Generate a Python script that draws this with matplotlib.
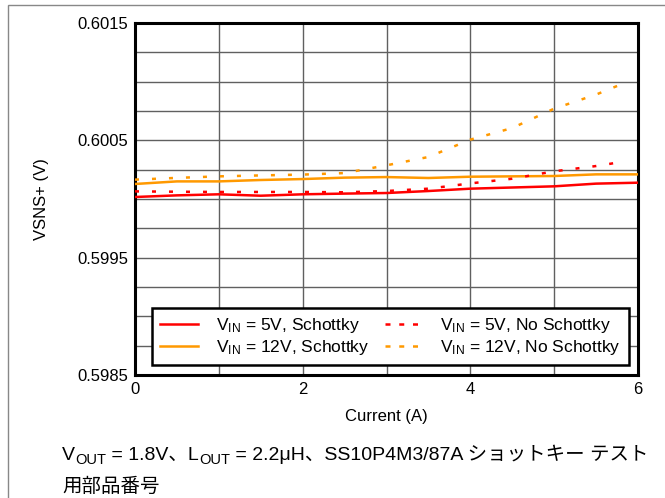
import matplotlib
matplotlib.use("Agg")
import matplotlib.pyplot as plt
from matplotlib.patches import Rectangle

plt.rcParams['font.family'] = ['Liberation Sans', 'Noto Sans CJK JP']
plt.rcParams['mathtext.fontset'] = 'custom'
plt.rcParams['mathtext.rm'] = 'Liberation Sans'
plt.rcParams['mathtext.it'] = 'Liberation Sans'

# Data
current_solid = [0, 0.5, 1, 1.5, 2, 2.5, 3, 3.5, 4, 4.5, 5, 5.5, 6]
vin5_schottky = [0.600017, 0.600031, 0.600040, 0.600028, 0.600040, 0.600046, 0.600051,
                 0.600068, 0.600088, 0.600098, 0.600108, 0.600131, 0.600139]
vin12_schottky = [0.600128, 0.600150, 0.600150, 0.600162, 0.600170, 0.600182, 0.600187,
                  0.600179, 0.600190, 0.600193, 0.600196, 0.600210, 0.600210]
current_dotted = [0, 0.5, 1, 1.5, 2, 2.5, 3, 3.5, 4, 4.5, 5, 5.5, 5.85]
vin5_noschottky = [0.600065, 0.600062, 0.600060, 0.600060, 0.600060, 0.600057, 0.600068,
                   0.600088, 0.600133, 0.600173, 0.600236, 0.600281, 0.600321]
vin12_noschottky = [0.600165, 0.600180, 0.600193, 0.600201, 0.600208, 0.600221, 0.600287,
                    0.600358, 0.600506, 0.600605, 0.600770, 0.600890, 0.600992]

labels = [r"V$_{\mathrm{IN}}$ = 5V, Schottky",
          r"V$_{\mathrm{IN}}$ = 12V, Schottky",
          r"V$_{\mathrm{IN}}$ = 5V, No Schottky",
          r"V$_{\mathrm{IN}}$ = 12V, No Schottky"]
x_ticks = [0, 2, 4, 6]
y_ticks = [0.5985, 0.5995, 0.6005, 0.6015]
y_tick_labels = ["0.5985", "0.5995", "0.6005", "0.6015"]

RED = "#ff0000"
ORANGE = "#ff9900"

W, H = 665, 498
fig = plt.figure(figsize=(W/100, H/100), dpi=100)
ax = fig.add_axes([135/W, 1-375/H, (638-135)/W, (375-23)/H])

dots = (0, (1.6, 5.2))
ax.plot(current_solid, vin5_schottky, color=RED, lw=1.8, label=labels[0], zorder=3)
ax.plot(current_solid, vin12_schottky, color=ORANGE, lw=1.8, label=labels[1], zorder=3)
ax.plot(current_dotted, vin5_noschottky, color=RED, lw=1.8, ls=dots, label=labels[2], zorder=3)
ax.plot(current_dotted, vin12_noschottky, color=ORANGE, lw=1.8, ls=dots, label=labels[3], zorder=3)

ax.set_xlim(0, 6)
ax.set_ylim(0.5985, 0.6015)
ax.set_xticks(x_ticks)
ax.set_xticks([1, 3, 5], minor=True)
ax.set_yticks(y_ticks)
ax.set_yticklabels(y_tick_labels)
ax.set_yticks([0.59875, 0.599, 0.59925, 0.5995, 0.59975, 0.600, 0.60025, 0.6005,
               0.60075, 0.601, 0.60125], minor=True)
ax.grid(True, which='both', color='#606060', lw=1.0)
ax.tick_params(which='both', length=0, labelsize=12, colors='black', pad=5)
for s in ax.spines.values():
    s.set_linewidth(2.2)
    s.set_color('black')

ax.set_xlabel("Current (A)", fontsize=12, labelpad=9)
ax.set_ylabel("VSNS+ (V)", fontsize=12, labelpad=20)

leg = ax.legend(ncol=2, loc='lower center', bbox_to_anchor=(0.508, 0.005), fontsize=12.5,
                frameon=True, fancybox=False, framealpha=1, edgecolor='black',
                handlelength=2.2, columnspacing=0.9, handletextpad=1.0,
                borderpad=0.45, labelspacing=0.15)
leg.get_frame().set_linewidth(1.8)
for h in leg.get_lines()[2:]:
    h.set_linestyle((0, (2, 3.5)))

# figure border (partially visible)
fig.patches.append(Rectangle((8/W, -0.05), 1.1, 1.05 - 5/H, transform=fig.transFigure,
                             fill=False, edgecolor='#888888', lw=1.0))

# caption with subscripts, pieces laid out left to right
fam = ['Liberation Sans', 'Noto Sans CJK JP']
pieces = [("V", False), ("OUT", True), (" = 1.8V、L", False), ("OUT", True),
          (" = 2.2μH、SS10P4M3/87A ショットキー テスト", False)]
renderer = fig.canvas.get_renderer()
xpx = 62.0
base = 460.0
for txt, sub in pieces:
    t = fig.text(xpx/W, 1-(base + (4 if sub else 0))/H, txt,
                 fontsize=10.5 if sub else 14, family=fam, va='baseline', ha='left')
    bb = t.get_window_extent(renderer)
    xpx += bb.width
fig.text(62/W, 1-492/H, "用部品番号", fontsize=14, family=fam, va='baseline')

fig.savefig("out.png", dpi=100)
